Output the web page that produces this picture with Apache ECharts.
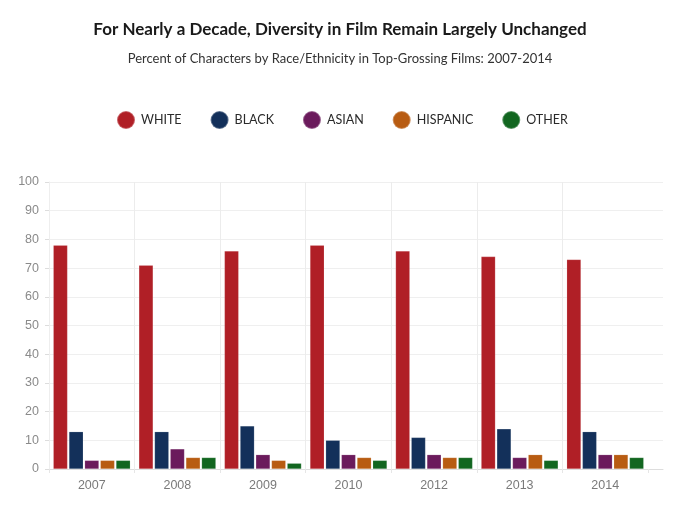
<!DOCTYPE html>
<html><head><meta charset="utf-8">
<script src="https://cdn.jsdelivr.net/npm/echarts@6/dist/echarts.min.js"></script>
<style>html,body{margin:0;padding:0;background:#fff}#c{width:680px;height:508px}</style>
</head><body><div id="c"></div>
<script>
const years = ['2007','2008','2009','2010','2012','2013','2014'];
const seriesNames = ['WHITE','BLACK','ASIAN','HISPANIC','OTHER'];
const white = [78, 71, 76, 78, 76, 74, 73];
const black = [13, 13, 15, 10, 11, 14, 13];
const asian = [3, 7, 5, 5, 5, 4, 5];
const hispanic = [3, 4, 3, 4, 4, 5, 5];
const other = [3, 4, 2, 3, 4, 3, 4];
const colors = ['#b01f26', '#13305a', '#6b1b5c', '#b85c12', '#126620'];
const yTicks = [0,10,20,30,40,50,60,70,80,90,100];

const values = [white, black, asian, hispanic, other];
const chart = echarts.init(document.getElementById('c'));
const FONT = 'Lato, "Noto Sans", sans-serif';
const AX = '"Liberation Sans", Arial, sans-serif';
const splitColors = years.map(() => '#ececec').concat(['rgba(0,0,0,0)']);
chart.setOption({
  animation: false,
  color: colors,
  title: [
    {text: 'For Nearly a Decade, Diversity in Film Remain Largely Unchanged', left: 'center', top: 16,
     textStyle: {fontFamily: FONT, fontSize: 17, fontWeight: 'bold', color: '#1a1a1a'}},
    {text: 'Percent of Characters by Race/Ethnicity in Top-Grossing Films: 2007-2014', left: 'center', top: 47,
     textStyle: {fontFamily: FONT, fontSize: 13, fontWeight: 'normal', color: '#333'}}
  ],
  legend: {
    top: 110, left: 116, padding: 0, icon: 'circle', itemWidth: 18, itemHeight: 18, itemGap: 28,
    textStyle: {fontFamily: FONT, fontSize: 12.5, color: '#2a2a2a', padding: [0,0,0,1]},
    data: seriesNames
  },
  grid: [
    {left: 49, right: 17, top: 182, bottom: 39},
    {left: 49, right: 32, top: 182, bottom: 39}
  ],
  xAxis: [
    {gridIndex: 0, type: 'value', min: 0, max: 1, axisLabel: {show: false}, splitLine: {show: false},
     axisTick: {show: false}, axisLine: {show: true, lineStyle: {color: '#dddddd'}}},
    {gridIndex: 1, type: 'category', data: years,
     axisLine: {show: false},
     axisTick: {show: true, length: 4, lineStyle: {color: '#e6e6e6'}},
     splitLine: {show: true, lineStyle: {color: splitColors}},
     axisLabel: {color: '#7a7a7a', fontSize: 12.5, margin: 10, fontFamily: AX}}
  ],
  yAxis: [
    {gridIndex: 0, type: 'value', min: 0, max: 100, interval: 10,
     axisLine: {show: true, lineStyle: {color: '#eeeeee'}},
     axisTick: {show: true, length: 4, lineStyle: {color: '#dddddd'}},
     splitLine: {show: true, lineStyle: {color: '#efefef'}},
     axisLabel: {color: '#8a8a8a', fontSize: 12.5, margin: 10, fontFamily: AX}},
    {gridIndex: 1, type: 'value', min: 0, max: 100, interval: 10, show: false}
  ],
  series: seriesNames.map((n, i) => ({
    name: n, type: 'bar', xAxisIndex: 1, yAxisIndex: 1,
    data: values[i], barGap: '10%', barCategoryGap: '10%',
    itemStyle: {color: colors[i], borderColor: 'rgba(255,255,255,0.3)', borderWidth: 0.5}
  }))
});
</script></body></html>
